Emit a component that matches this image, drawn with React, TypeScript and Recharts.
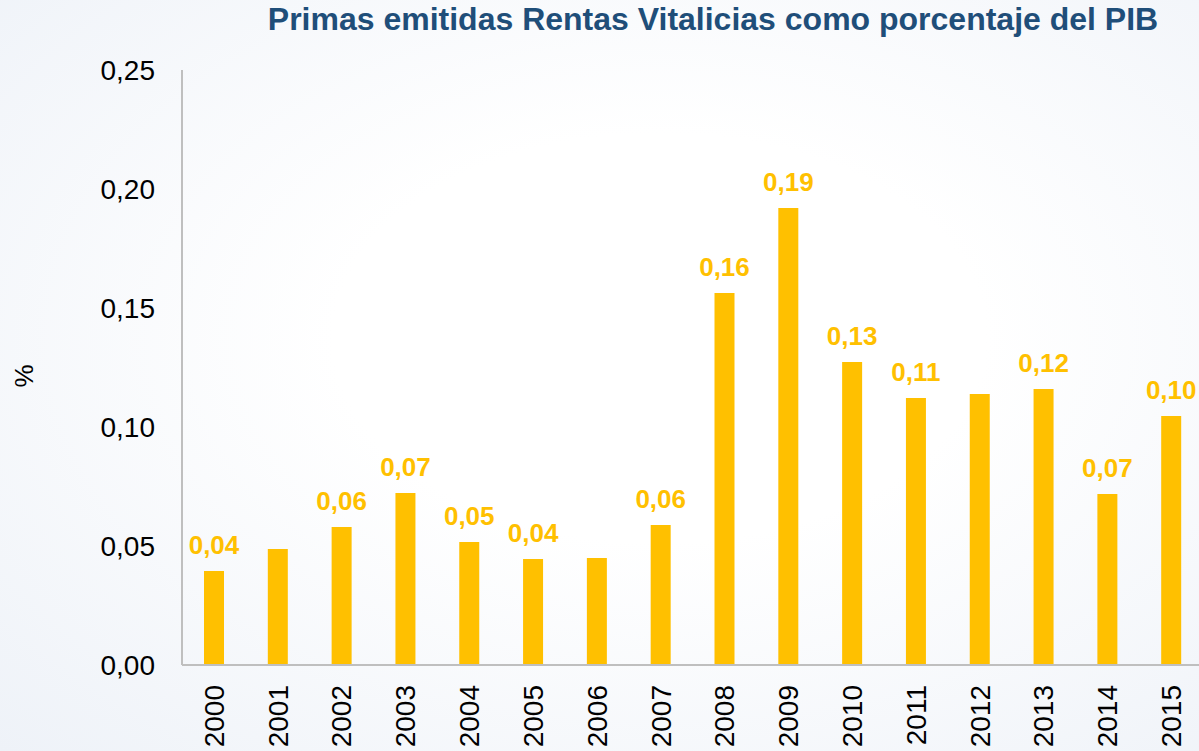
import React from 'react'
import { BarChart, Bar, XAxis, YAxis, LabelList } from 'recharts'

const years = ['2000', '2001', '2002', '2003', '2004', '2005', '2006', '2007', '2008', '2009', '2010', '2011', '2012', '2013', '2014', '2015']
const primas = [0.0395, 0.0487, 0.058, 0.0723, 0.0517, 0.0445, 0.045, 0.0588, 0.1563, 0.192, 0.1273, 0.1122, 0.1139, 0.116, 0.0718, 0.1046]
const labeledYears = ['2000', '2002', '2003', '2004', '2005', '2007', '2008', '2009', '2010', '2011', '2013', '2014', '2015']
const yTicks = [0, 0.05, 0.1, 0.15, 0.2, 0.25]

const data = years.map((year, i) => ({ year, value: primas[i] }))

const FONT = "'Liberation Sans', Arial, sans-serif"
const fmt = (v: number) => v.toFixed(2).replace('.', ',')

const YearTick = (props: any) => {
    const { x, y, payload } = props
    return (
        <text
            x={x}
            y={y + 20}
            transform={`rotate(-90, ${x}, ${y + 20})`}
            textAnchor="end"
            dy="0.355em"
            fontSize={28}
            fontFamily={FONT}
            fill="#000"
        >
            {payload.value}
        </text>
    )
}

const ValueLabel = (props: any) => {
    const { x, y, width, value, index } = props
    if (!labeledYears.includes(years[index])) return null
    return (
        <text
            x={x + width / 2}
            y={y - 17}
            textAnchor="middle"
            fontSize={26}
            fontWeight="bold"
            fontFamily={FONT}
            fill="#FFC000"
        >
            {fmt(value)}
        </text>
    )
}

export default function App() {
    return (
        <div style={{
            position: 'absolute',
            left: 0,
            top: 0,
            width: 1199,
            height: 751,
            overflow: 'hidden',
            background: 'radial-gradient(ellipse at 55% 45%, #ffffff 35%, #eef2f8 100%)',
            fontFamily: FONT,
        }}>
            <div style={{
                position: 'absolute',
                left: 0,
                width: 1426,
                top: 1,
                textAlign: 'center',
                fontSize: 32,
                fontWeight: 'bold',
                color: '#1F4E79',
                whiteSpace: 'nowrap',
            }}>
                Primas emitidas Rentas Vitalicias como porcentaje del PIB
            </div>
            <div style={{
                position: 'absolute',
                left: 24,
                top: 376,
                transform: 'translate(-50%, -50%) rotate(-90deg)',
                fontSize: 26,
                color: '#000',
            }}>
                %
            </div>
            <div style={{ position: 'absolute', left: 0, top: 0 }}>
                <BarChart width={1203} height={751} data={data} margin={{ top: 70, right: 0, bottom: 0, left: 0 }}>
                    <XAxis
                        dataKey="year"
                        height={86}
                        tickLine={false}
                        tickSize={0}
                        tickMargin={0}
                        interval={0}
                        tick={<YearTick />}
                        axisLine={{ stroke: '#BFBFBF', strokeWidth: 2 }}
                    />
                    <YAxis
                        width={182}
                        domain={[0, 0.25]}
                        ticks={yTicks}
                        tickFormatter={fmt}
                        tickLine={false}
                        tickSize={0}
                        tickMargin={27}
                        interval={0}
                        tick={{ fill: '#000', fontSize: 28, fontFamily: FONT }}
                        axisLine={{ stroke: '#BFBFBF', strokeWidth: 2 }}
                    />
                    <Bar dataKey="value" fill="#FFC000" barSize={20} isAnimationActive={false}>
                        <LabelList dataKey="value" content={<ValueLabel />} />
                    </Bar>
                </BarChart>
            </div>
        </div>
    )
}
